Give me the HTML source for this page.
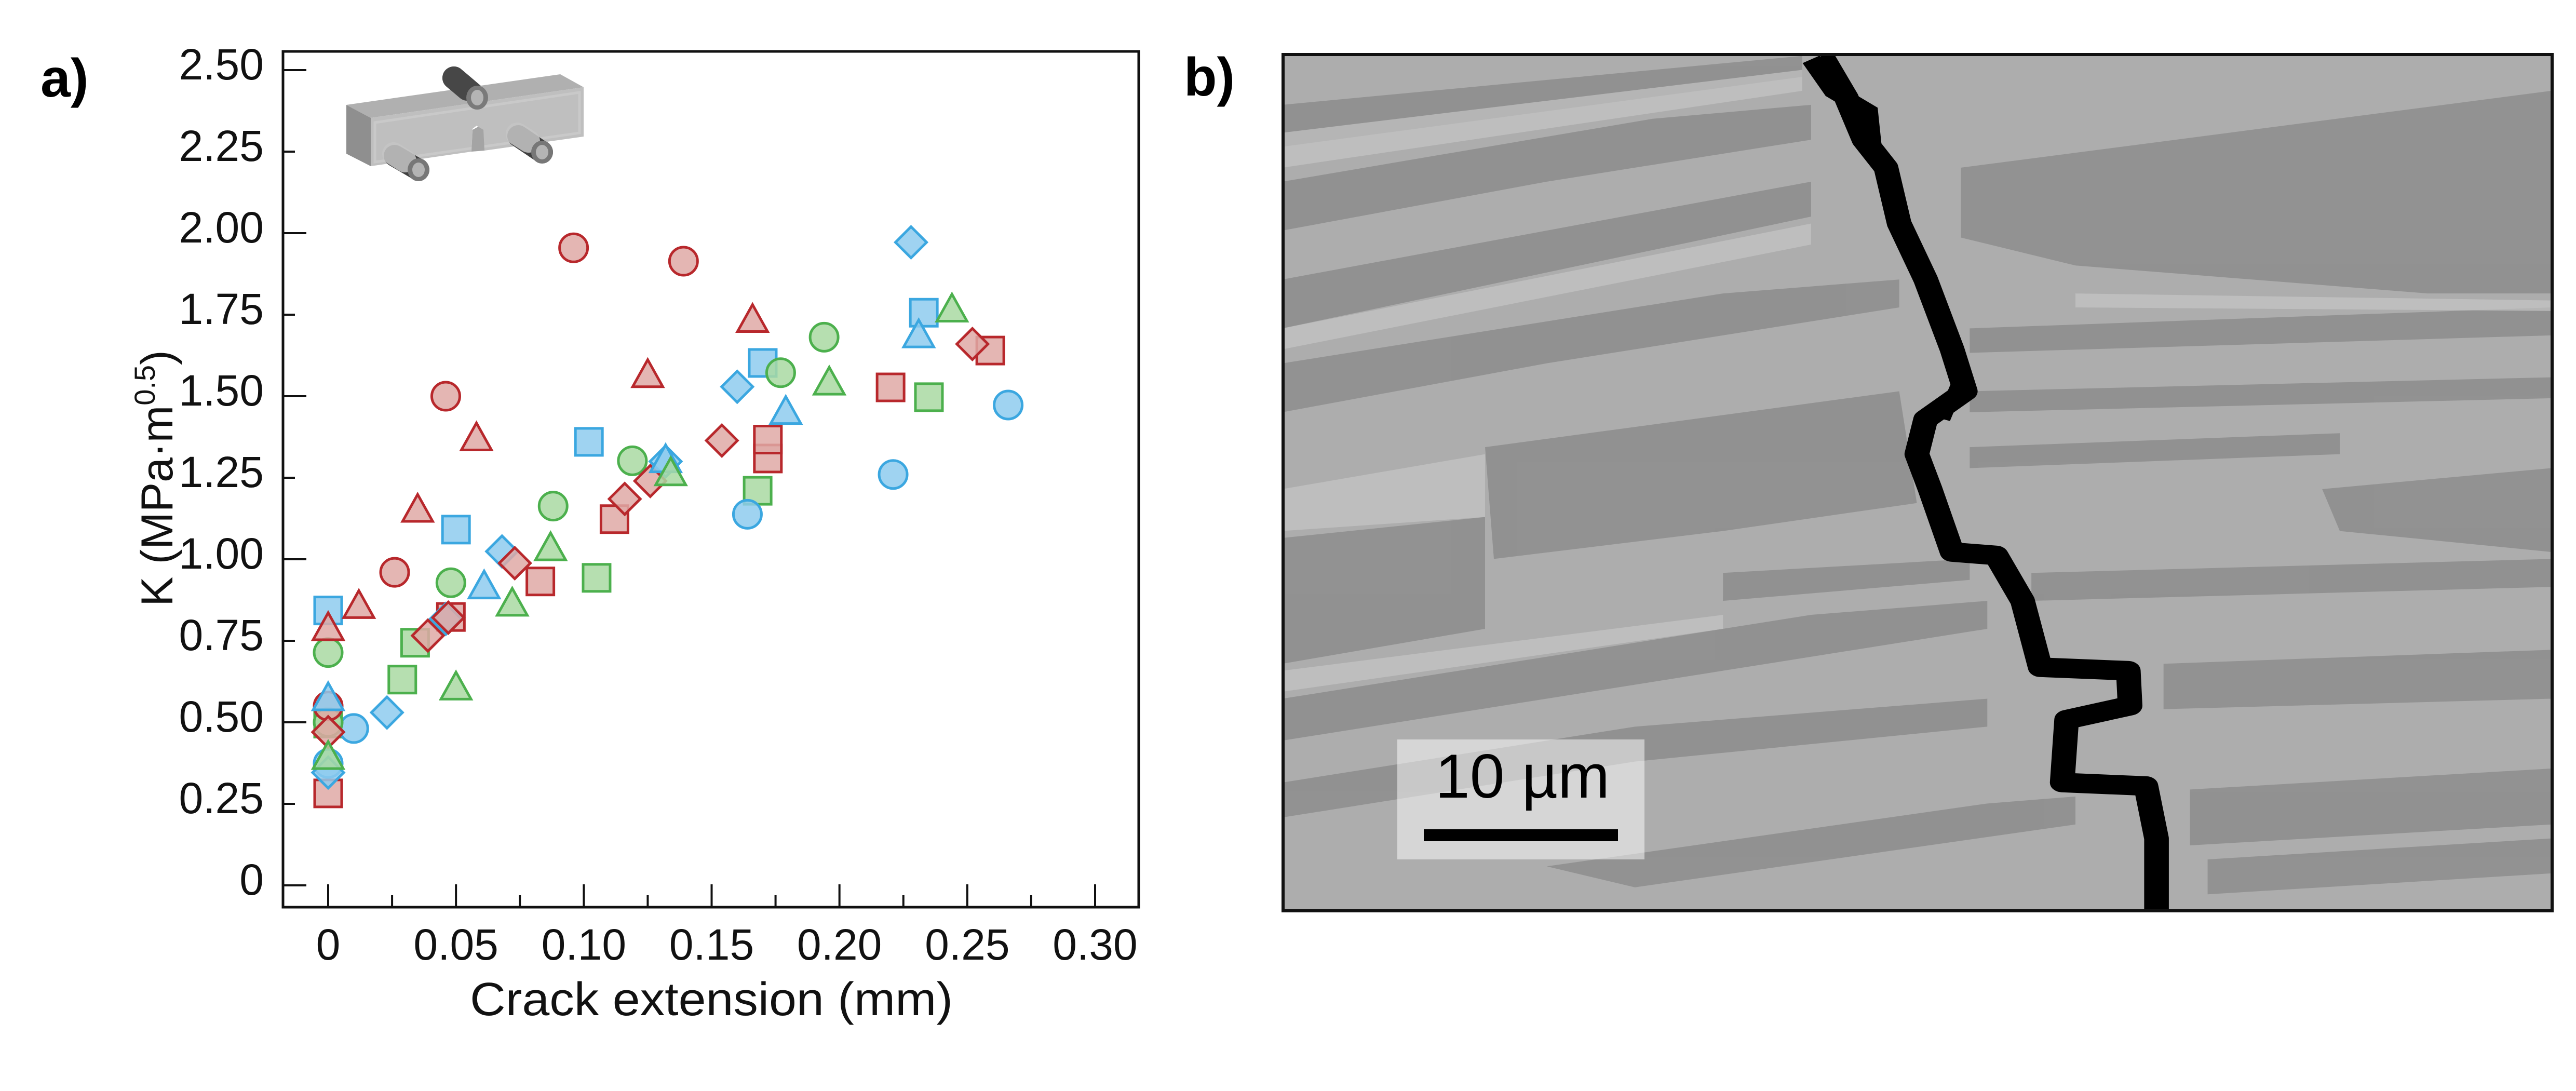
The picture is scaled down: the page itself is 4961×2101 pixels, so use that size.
<!DOCTYPE html>
<html><head><meta charset="utf-8"><style>
html,body{margin:0;padding:0;background:#fff;}
svg{display:block;}
text{font-family:"Liberation Sans",sans-serif;}
</style></head><body>
<svg id="fig" width="4961" height="2101" viewBox="0 0 4961 2101" xmlns="http://www.w3.org/2000/svg">
<rect x="0" y="0" width="4961" height="2101" fill="#fff"/>
<text x="78" y="186" font-size="104" font-weight="bold">a)</text>
<text x="2280" y="184" font-size="104" font-weight="bold">b)</text>

<g id="chart">
  <rect x="545" y="99" width="1648" height="1648" fill="none" stroke="#111" stroke-width="5"/>
  <g id="ticks"></g>
  <g id="icon">
    <line x1="874" y1="150" x2="919" y2="188" stroke="#474747" stroke-width="44" stroke-linecap="round"/>
    <polygon points="667,202 1079,143 1124,168 714,227" fill="#b0b0b0"/>
    <polygon points="667,202 714,227 714,320 667,296" fill="#8f8f8f"/>
    <polygon points="714,227 1124,168 1124,263 933,290 925,248 918,242 910,248 908,292 714,320" fill="#bfbfbf"/>
    <polygon points="722,236 1116,178 1116,256 722,312" fill="none" stroke="#c9c9c9" stroke-width="5"/>
    <polygon points="910,250 921,244 931,250 933,290 908,292" fill="#a4a4a4"/>
    <line x1="874" y1="150" x2="900" y2="172" stroke="#474747" stroke-width="44" stroke-linecap="round"/>
    <ellipse cx="919" cy="188" rx="21" ry="23" fill="#7a7a7a"/>
    <ellipse cx="919" cy="188" rx="12" ry="15" fill="#b4b4b4"/>
    <line x1="760" y1="300" x2="806" y2="327" stroke="#404040" stroke-width="42" stroke-linecap="round"/>
    <line x1="758" y1="296" x2="780" y2="310" stroke="#c6c6c6" stroke-width="44" stroke-linecap="round" opacity="0.85"/>
    <ellipse cx="806" cy="327" rx="21" ry="22" fill="#777"/>
    <ellipse cx="806" cy="327" rx="12" ry="14" fill="#b4b4b4"/>
    <line x1="998" y1="262" x2="1044" y2="293" stroke="#404040" stroke-width="42" stroke-linecap="round"/>
    <line x1="996" y1="258" x2="1018" y2="272" stroke="#c6c6c6" stroke-width="44" stroke-linecap="round" opacity="0.85"/>
    <ellipse cx="1044" cy="293" rx="21" ry="22" fill="#777"/>
    <ellipse cx="1044" cy="293" rx="12" ry="14" fill="#b4b4b4"/>
  </g>
  <g id="marks"></g>
  <g id="labels" font-size="84" fill="#111"></g>
  <text x="1370" y="1955" font-size="90" text-anchor="middle" fill="#111" textLength="930" lengthAdjust="spacingAndGlyphs">Crack extension (mm)</text>
  <text transform="translate(332,921) rotate(-90)" font-size="86" text-anchor="middle" fill="#111">K (MPa·m<tspan font-size="56" dy="-34">0.5</tspan><tspan dy="34">)</tspan></text>
</g>

<g id="sem">
  <clipPath id="semclip"><rect x="2471" y="105" width="2444" height="1649"/></clipPath>
  <g clip-path="url(#semclip)">
    <rect x="2471" y="105" width="2444" height="1649" fill="#adadad"/>
    <g transform="translate(2300,0) scale(1.697,1.3455)">
      <g fill="#8f8f8f" opacity="0.9">
        <polygon points="100,150 690,80 690,110 100,210"/>
        <polygon points="100,260 520,170 700,150 700,200 400,260 100,330"/>
        <polygon points="100,400 700,260 700,310 100,470"/>
        <polygon points="870,240 1540,130 1540,420 1400,420 1000,380 870,340"/>
        <polygon points="330,640 800,560 820,720 600,760 340,800"/>
        <polygon points="100,770 330,740 330,900 100,950"/>
        <polygon points="100,520 600,420 800,400 800,440 400,520 100,590"/>
        <polygon points="1280,700 1540,670 1540,790 1300,760"/>
        <polygon points="1100,950 1540,930 1540,1000 1100,1015"/>
        <polygon points="1130,1130 1540,1100 1540,1180 1130,1210"/>
        <polygon points="880,470 1540,440 1540,480 880,505"/>
        <polygon points="880,560 1540,540 1540,570 880,590"/>
        <polygon points="880,640 1300,620 1300,650 880,670"/>
        <polygon points="950,820 1540,800 1540,840 950,860"/>
        <polygon points="100,1000 700,880 900,860 900,900 600,960 100,1060"/>
        <polygon points="100,1120 500,1040 900,1000 900,1040 500,1090 100,1170"/>
        <polygon points="400,1240 900,1150 1000,1140 1000,1180 500,1270"/>
        <polygon points="1150,1230 1540,1200 1540,1250 1150,1280"/>
        <polygon points="600,820 880,800 880,830 600,860"/>
      </g>
      <g fill="#c4c4c4" opacity="0.7">
        <polygon points="100,190 690,100 690,130 100,240"/>
        <polygon points="100,470 700,320 700,350 100,500"/>
        <polygon points="100,960 600,880 600,900 100,990"/>
        <polygon points="1000,420 1540,430 1540,445 1000,440"/>
        <polygon points="100,700 330,650 330,740 100,760"/>
      </g>
      <polyline fill="none" stroke="#000" stroke-width="28" stroke-linejoin="round" points="712,80 740,140 760,200 785,240 800,320 830,400 860,500 875,560 830,600 820,650 835,700 860,790 910,795 940,860 960,955 1060,960 1062,1010 990,1030 985,1120 1080,1125 1092,1200 1092,1305"/>
      <polyline fill="none" stroke="#000" stroke-width="16" points="800,330 835,420 870,540 850,600"/>
      <polyline fill="none" stroke="#000" stroke-width="22" points="700,85 725,130 765,160 770,220"/>
    </g>
    <rect x="2691" y="1424" width="476" height="231" fill="#fff" fill-opacity="0.5"/>
    <text x="2932" y="1536" font-size="120" text-anchor="middle" fill="#000">10 µm</text>
    <rect x="2742" y="1597" width="374" height="23" fill="#000"/>
  </g>
  <rect x="2471" y="105" width="2444" height="1649" fill="none" stroke="#111" stroke-width="6"/>
</g>
</svg>
<script>
const xTickValues = [0, 0.05, 0.10, 0.15, 0.20, 0.25, 0.30];
const xTickLabels = ["0", "0.05", "0.10", "0.15", "0.20", "0.25", "0.30"];
const yTickValues = [0, 0.25, 0.5, 0.75, 1.0, 1.25, 1.5, 1.75, 2.0, 2.25, 2.5];
const yTickLabels = ["0", "0.25", "0.50", "0.75", "1.00", "1.25", "1.50", "1.75", "2.00", "2.25", "2.50"];

const redCircleX = [0, 0.026, 0.046, 0.096, 0.139];
const redCircleY = [0.55, 0.96, 1.50, 1.955, 1.914];
const redTriangleX = [0, 0.012, 0.035, 0.058, 0.125, 0.166];
const redTriangleY = [0.785, 0.853, 1.148, 1.367, 1.561, 1.730];
const redDiamondX = [0, 0.039, 0.047, 0.073, 0.116, 0.126, 0.154, 0.252];
const redDiamondY = [0.47, 0.766, 0.821, 0.988, 1.185, 1.240, 1.364, 1.66];
const redSquareX = [0, 0.048, 0.083, 0.112, 0.172, 0.172, 0.220, 0.259];
const redSquareY = [0.282, 0.823, 0.932, 1.123, 1.309, 1.367, 1.527, 1.640];

const blueCircleX = [0, 0.010, 0.164, 0.221, 0.266];
const blueCircleY = [0.374, 0.481, 1.138, 1.260, 1.473];
const blueTriangleX = [0, 0.061, 0.132, 0.179, 0.231];
const blueTriangleY = [0.57, 0.913, 1.30, 1.448, 1.683];
const blueDiamondX = [0, 0.023, 0.046, 0.068, 0.132, 0.160, 0.228];
const blueDiamondY = [0.346, 0.53, 0.817, 1.024, 1.30, 1.529, 1.972];
const blueSquareX = [0, 0.050, 0.102, 0.170, 0.233];
const blueSquareY = [0.843, 1.091, 1.360, 1.602, 1.756];

const greenCircleX = [0, 0, 0.048, 0.088, 0.119, 0.177, 0.194];
const greenCircleY = [0.50, 0.714, 0.928, 1.163, 1.302, 1.572, 1.681];
const greenTriangleX = [0, 0.050, 0.072, 0.087, 0.134, 0.196, 0.244];
const greenTriangleY = [0.39, 0.603, 0.86, 1.03, 1.26, 1.538, 1.762];
const greenSquareX = [0, 0.029, 0.034, 0.105, 0.168, 0.235];
const greenSquareY = [0.496, 0.631, 0.744, 0.943, 1.21, 1.497];

const NS = "http://www.w3.org/2000/svg";
const X0 = 632, X1 = 2109, Y0 = 1705, Y1 = 135;
function xS(v){ return X0 + v * (X1 - X0) / 0.30; }
function yS(v){ return Y0 - v * (Y0 - Y1) / 2.5; }
function mk(tag, attrs){ const e = document.createElementNS(NS, tag); for (const k in attrs) e.setAttribute(k, attrs[k]); return e; }

const ticks = document.getElementById('ticks');
const labels = document.getElementById('labels');
for (let i = 0; i <= 12; i++) {
  const v = i * 0.025;
  const len = (i % 2 === 0) ? 42 : 21;
  const t = mk('line', {x1: xS(v), x2: xS(v), y1: 1745, y2: 1745 - len, stroke: '#111', 'stroke-width': 4});
  
  
  ticks.appendChild(t);
}
xTickValues.forEach((v, i) => {
  const t = mk('text', {x: xS(v), y: 1848, 'text-anchor': 'middle'});
  t.textContent = xTickLabels[i];
  
  
  labels.appendChild(t);
});
yTickValues.forEach((v, i) => {
  const len = (i % 2 === 0) ? 43 : 21;
  const t = mk('line', {x1: 547, x2: 547 + len, y1: yS(v), y2: yS(v), stroke: '#111', 'stroke-width': 4});
  
  
  ticks.appendChild(t);
  const l = mk('text', {x: 508, y: yS(v) + 18, 'text-anchor': 'end'});
  l.textContent = yTickLabels[i];
  
  
  labels.appendChild(l);
});

const colors = {
  red:   {stroke: '#b8282c', fill: '#dfa9a6'},
  blue:  {stroke: '#3ba7e0', fill: '#8ecbee'},
  green: {stroke: '#4cb04d', fill: '#a9d9a2'}
};
const marks = document.getElementById('marks');
function shape(kind, cx, cy, c){
  let e;
  if (kind === 'circle') e = mk('circle', {cx: cx, cy: cy, r: 27});
  else if (kind === 'square') e = mk('rect', {x: cx - 26, y: cy - 26, width: 52, height: 52});
  else if (kind === 'triangle') e = mk('polygon', {points: `${cx},${cy-32} ${cx+29},${cy+20} ${cx-29},${cy+20}`});
  else e = mk('polygon', {points: `${cx},${cy-30} ${cx+30},${cy} ${cx},${cy+30} ${cx-30},${cy}`});
  e.setAttribute('fill', c.fill);
  e.setAttribute('fill-opacity', '0.85');
  e.setAttribute('stroke', c.stroke);
  e.setAttribute('stroke-width', '5');
  return e;
}
function drawSeries(xs, ys, kind, color, name){
  xs.forEach((x, i) => {
    const e = shape(kind, xS(x), yS(ys[i]), colors[color]);
    
    
    marks.appendChild(e);
  });
}
drawSeries(greenSquareX, greenSquareY, 'square', 'green', 'green-square-point');
drawSeries(blueSquareX, blueSquareY, 'square', 'blue', 'blue-square-point');
drawSeries(redSquareX, redSquareY, 'square', 'red', 'red-square-point');
drawSeries(blueCircleX, blueCircleY, 'circle', 'blue', 'blue-circle-point');
drawSeries(greenCircleX, greenCircleY, 'circle', 'green', 'green-circle-point');
drawSeries(redCircleX, redCircleY, 'circle', 'red', 'red-circle-point');
drawSeries(blueDiamondX, blueDiamondY, 'diamond', 'blue', 'blue-diamond-point');
drawSeries(redDiamondX, redDiamondY, 'diamond', 'red', 'red-diamond-point');
drawSeries(blueTriangleX, blueTriangleY, 'triangle', 'blue', 'blue-triangle-point');
drawSeries(greenTriangleX, greenTriangleY, 'triangle', 'green', 'green-triangle-point');
drawSeries(redTriangleX, redTriangleY, 'triangle', 'red', 'red-triangle-point');
</script>
</body></html>
